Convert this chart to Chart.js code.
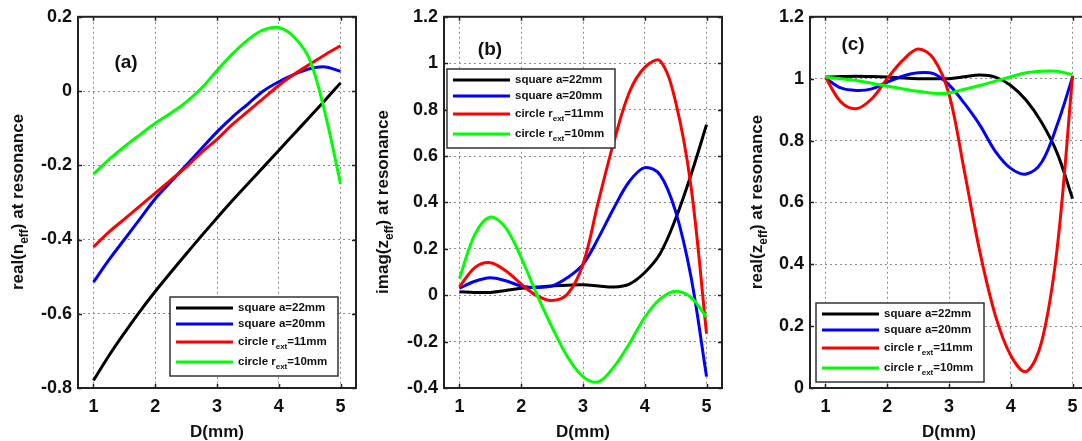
<!DOCTYPE html>
<html>
<head>
<meta charset="utf-8">
<title>Effective parameters at resonance</title>
<script src="https://cdn.jsdelivr.net/npm/chart.js"></script>
<style>
  html, body { margin: 0; padding: 0; background: #fff; overflow: hidden; }
  body { width: 1082px; height: 441px; position: relative; }
  canvas { position: absolute; top: 0; }
</style>
</head>
<body>
<canvas id="panelA" width="361" height="441" style="left:0px"></canvas>
<canvas id="panelB" width="361" height="441" style="left:366px"></canvas>
<canvas id="panelC" width="361" height="441" style="left:732px"></canvas>

<script>
// D (mm) sample points and axis ticks
const D = [1, 1.25, 1.5, 1.75, 2, 2.25, 2.5, 2.75, 3, 3.25, 3.5, 3.75, 4, 4.25, 4.5, 4.75, 5];
const dTicks = [1, 2, 3, 4, 5];

const seriesNames = ['square a=22mm', 'square a=20mm', 'circle r_{ext}=11mm', 'circle r_{ext}=10mm'];
const seriesColors = ['#000000', '#0000ff', '#ff0000', '#00ff00'];

// (a) real(n_eff)
const nEffSq22 = [-0.78, -0.713, -0.652, -0.594, -0.54, -0.489, -0.439, -0.39, -0.342, -0.295, -0.25, -0.205, -0.16, -0.115, -0.07, -0.025, 0.022];
const nEffSq20 = [-0.515, -0.455, -0.40, -0.345, -0.29, -0.245, -0.2, -0.155, -0.11, -0.07, -0.035, 0.0, 0.025, 0.045, 0.06, 0.065, 0.053];
const nEffCi11 = [-0.42, -0.38, -0.345, -0.31, -0.275, -0.24, -0.205, -0.165, -0.13, -0.09, -0.055, -0.02, 0.015, 0.045, 0.072, 0.098, 0.122];
const nEffCi10 = [-0.224, -0.185, -0.15, -0.118, -0.087, -0.06, -0.03, 0.008, 0.055, 0.1, 0.138, 0.165, 0.171, 0.145, 0.085, -0.06, -0.25];
const nEffTicks = [-0.8, -0.6, -0.4, -0.2, 0, 0.2];

// (b) imag(z_eff)
const imZSq22 = [0.015, 0.012, 0.012, 0.02, 0.03, 0.035, 0.04, 0.043, 0.045, 0.04, 0.035, 0.048, 0.098, 0.18, 0.33, 0.52, 0.735];
const imZSq20 = [0.03, 0.06, 0.075, 0.062, 0.04, 0.033, 0.04, 0.076, 0.133, 0.247, 0.376, 0.49, 0.55, 0.518, 0.36, 0.076, -0.351];
const imZCi11 = [0.036, 0.119, 0.14, 0.105, 0.048, -0.002, -0.023, 0.005, 0.133, 0.405, 0.661, 0.875, 0.982, 1.01, 0.832, 0.465, -0.166];
const imZCi10 = [0.072, 0.262, 0.337, 0.29, 0.162, 0.005, -0.138, -0.266, -0.351, -0.373, -0.309, -0.209, -0.095, -0.016, 0.017, -0.01, -0.095];
const imZTicks = [-0.4, -0.2, 0, 0.2, 0.4, 0.6, 0.8, 1, 1.2];

// (c) real(z_eff)
const reZSq22 = [1.005, 1.007, 1.008, 1.007, 1.005, 1.002, 1.0, 1.0, 1.0, 1.006, 1.012, 1.005, 0.978, 0.93, 0.858, 0.76, 0.612];
const reZSq20 = [1.002, 0.97, 0.962, 0.967, 0.989, 1.008, 1.019, 1.016, 0.98, 0.92, 0.85, 0.765, 0.71, 0.692, 0.73, 0.85, 1.005];
const reZCi11 = [1.005, 0.925, 0.903, 0.935, 1.0, 1.059, 1.096, 1.065, 0.95, 0.70, 0.44, 0.235, 0.105, 0.053, 0.15, 0.45, 1.01];
const reZCi10 = [1.005, 1.0, 0.994, 0.985, 0.976, 0.967, 0.959, 0.953, 0.954, 0.966, 0.978, 0.992, 1.006, 1.019, 1.024, 1.024, 1.013];
const reZTicks = [0, 0.2, 0.4, 0.6, 0.8, 1, 1.2];

const FONT = 'Liberation Sans, Arial, sans-serif';
const INK = '#111';

// split "text_{sub}text" into normal / subscript runs
function richParts(s) {
  return s.split(/_\{|\}/).map((t, i) => ({ t, sub: i % 2 === 1 })).filter(p => p.t);
}

function drawRich(ctx, s, x, y, size, align) {
  const subSize = Math.round(size * 0.7);
  const parts = richParts(s);
  let total = 0;
  parts.forEach(p => {
    ctx.font = 'bold ' + (p.sub ? subSize : size) + 'px ' + FONT;
    p.w = ctx.measureText(p.t).width;
    total += p.w;
  });
  let cx = align === 'center' ? x - total / 2 : x;
  ctx.textAlign = 'left';
  ctx.textBaseline = 'middle';
  parts.forEach(p => {
    ctx.font = 'bold ' + (p.sub ? subSize : size) + 'px ' + FONT;
    ctx.fillText(p.t, cx, p.sub ? y + size * 0.38 : y);
    cx += p.w;
  });
}

// boxed axes with inward ticks, titles, panel tag and legend
const axesPlugin = {
  id: 'matlabAxes',
  afterDraw(chart, args, opts) {
    const { ctx, chartArea: a, scales: { x, y } } = chart;
    ctx.save();
    ctx.strokeStyle = '#222';
    ctx.lineWidth = 2;
    ctx.strokeRect(a.left, a.top, a.right - a.left, a.bottom - a.top);

    ctx.lineWidth = 1.5;
    ctx.beginPath();
    x.ticks.forEach(t => {
      const px = Math.round(x.getPixelForValue(t.value)) + 0.5;
      ctx.moveTo(px, a.bottom); ctx.lineTo(px, a.bottom - 4);
      ctx.moveTo(px, a.top); ctx.lineTo(px, a.top + 4);
    });
    y.ticks.forEach(t => {
      const py = Math.round(y.getPixelForValue(t.value)) + 0.5;
      ctx.moveTo(a.left, py); ctx.lineTo(a.left + 4, py);
      ctx.moveTo(a.right, py); ctx.lineTo(a.right - 4, py);
    });
    ctx.stroke();

    ctx.fillStyle = INK;
    // x title
    ctx.font = 'bold 17px ' + FONT;
    ctx.textAlign = 'center';
    ctx.textBaseline = 'middle';
    ctx.fillText('D(mm)', (a.left + a.right) / 2, 432);

    // y title, rotated
    ctx.save();
    ctx.translate(opts.yTitleX, 202);
    ctx.rotate(-Math.PI / 2);
    drawRich(ctx, opts.yTitle, 0, 0, 17, 'center');
    ctx.restore();

    // panel tag
    ctx.font = 'bold 19px ' + FONT;
    ctx.textAlign = 'center';
    ctx.textBaseline = 'middle';
    ctx.fillText(opts.tag, opts.tagPos[0], opts.tagPos[1]);

    // legend
    const [lx, ly] = opts.legendPos;
    const rows = [11, 27, 45, 65];
    ctx.fillStyle = '#fff';
    ctx.fillRect(lx, ly, 168, 79);
    ctx.strokeStyle = '#333';
    ctx.lineWidth = 1.5;
    ctx.strokeRect(lx, ly, 168, 79);
    seriesNames.forEach((name, i) => {
      const ry = ly + rows[i];
      ctx.strokeStyle = seriesColors[i];
      ctx.lineWidth = 3;
      ctx.beginPath();
      ctx.moveTo(lx + 6, ry);
      ctx.lineTo(lx + 63, ry);
      ctx.stroke();
      ctx.fillStyle = INK;
      drawRich(ctx, name, lx + 68, ry, 11.5, 'left');
    });
    ctx.restore();
  }
};

function makePanel(id, cfg) {
  const tickFont = { family: FONT, size: 18, weight: 'bold' };
  return new Chart(document.getElementById(id), {
    type: 'line',
    data: {
      datasets: cfg.series.map((vals, i) => ({
        label: seriesNames[i].replace(/_\{|\}/g, ''),
        data: D.map((d, j) => ({ x: d, y: vals[j] })),
        borderColor: seriesColors[i],
        borderWidth: 3,
        pointRadius: 0,
        tension: 0.35,
        fill: false,
        order: 3 - i
      }))
    },
    options: {
      responsive: false,
      animation: false,
      events: [],
      layout: { padding: { top: 14, right: 5, left: 0, bottom: 0 } },
      plugins: {
        legend: { display: false },
        tooltip: { enabled: false },
        matlabAxes: cfg.axes
      },
      scales: {
        x: {
          type: 'linear',
          min: 0.75,
          max: 5.25,
          afterFit: s => { s.height = 53; },
          afterBuildTicks: s => { s.ticks = dTicks.map(v => ({ value: v })); },
          grid: { color: '#8c8c8c', lineWidth: 1, drawTicks: false },
          border: { display: false, dash: [2, 3] },
          ticks: { font: tickFont, color: INK, padding: 8, maxRotation: 0, callback: v => String(v) }
        },
        y: {
          type: 'linear',
          min: cfg.yTicks[0],
          max: cfg.yTicks[cfg.yTicks.length - 1],
          afterFit: s => { s.width = 78; },
          afterBuildTicks: s => { s.ticks = cfg.yTicks.map(v => ({ value: v })); },
          grid: { color: '#8c8c8c', lineWidth: 1, drawTicks: false },
          border: { display: false, dash: [2, 3] },
          ticks: { font: tickFont, color: INK, padding: 6, callback: v => String(Math.round(v * 10) / 10) }
        }
      }
    },
    plugins: [axesPlugin]
  });
}

makePanel('panelA', {
  series: [nEffSq22, nEffSq20, nEffCi11, nEffCi10],
  yTicks: nEffTicks,
  axes: { yTitle: 'real(n_{eff}) at resonance', yTitleX: 18, tag: '(a)', tagPos: [126, 63], legendPos: [170, 297] }
});

makePanel('panelB', {
  series: [imZSq22, imZSq20, imZCi11, imZCi10],
  yTicks: imZTicks,
  axes: { yTitle: 'imag(z_{eff}) at resonance', yTitleX: 17, tag: '(b)', tagPos: [124, 50], legendPos: [81, 69] }
});

makePanel('panelC', {
  series: [reZSq22, reZSq20, reZCi11, reZCi10],
  yTicks: reZTicks,
  axes: { yTitle: 'real(z_{eff}) at resonance', yTitleX: 25, tag: '(c)', tagPos: [121, 45], legendPos: [84, 303] }
});
</script>
</body>
</html>
